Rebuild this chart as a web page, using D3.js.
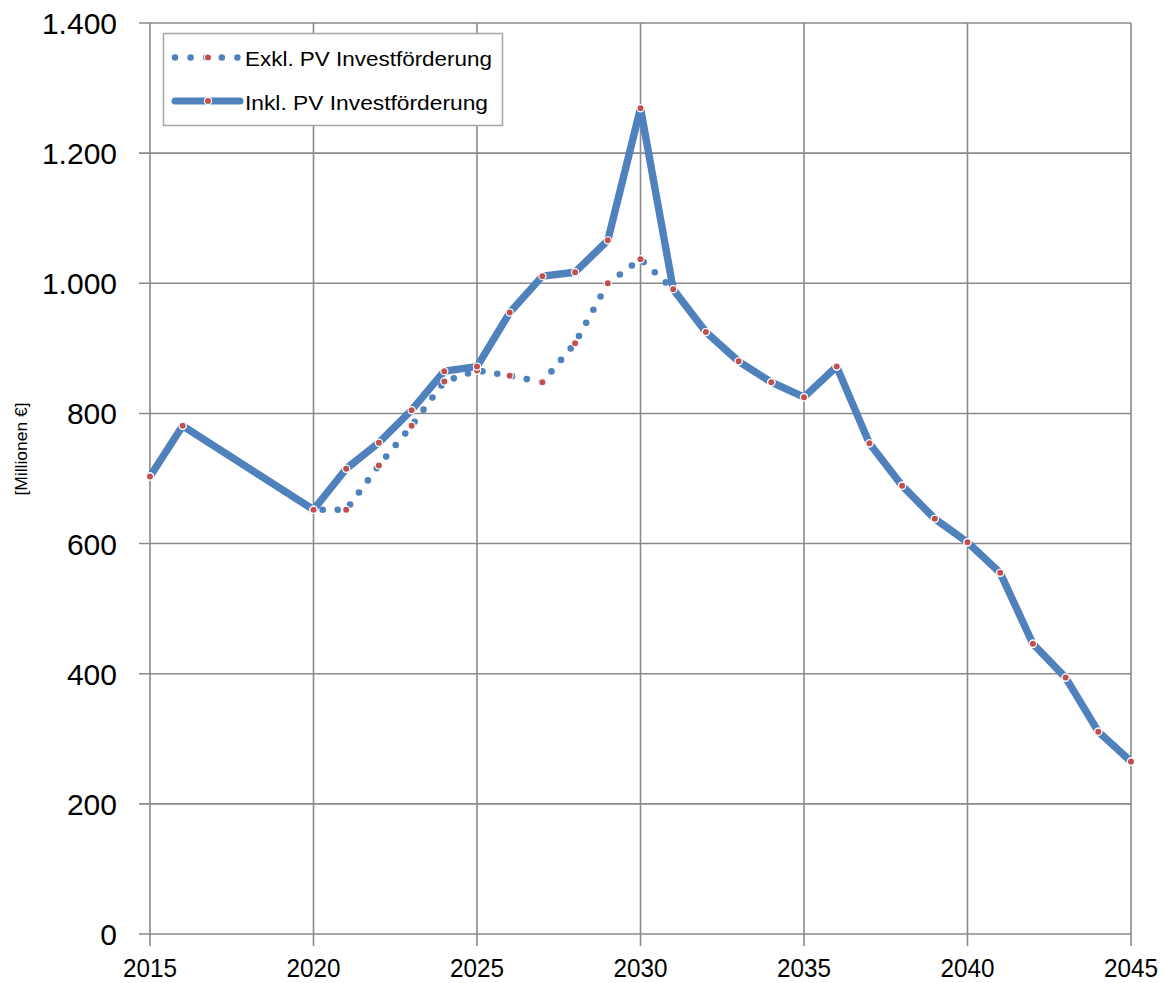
<!DOCTYPE html>
<html><head><meta charset="utf-8">
<script src="https://cdn.jsdelivr.net/npm/d3@7"></script>
<style>body{margin:0;background:#fff}svg{display:block}</style>
</head><body><div id="chart"></div>
<script>
const years = [2015,2016,2020,2021,2022,2023,2024,2025,2026,2027,2028,2029,2030,2031,2032,2033,2034,2035,2036,2037,2038,2039,2040,2041,2042,2043,2044,2045];
const inkl = [703,781,652,715,755,805,865,872,955,1011,1017,1066,1269,991,925,880,848,825,872,754,689,638,602,555,446,394,311,265];
const exkl = [703,781,652,652,720,781,849,866,858,848,908,1000,1037,991,925,880,848,825,872,754,689,638,602,555,446,394,311,265];
const seriesNames = ["Exkl. PV Investförderung","Inkl. PV Investförderung"];
const yTicks = [0,200,400,600,800,1000,1200,1400];
const xTicks = [2015,2020,2025,2030,2035,2040,2045];
const yLabel = "[Millionen €]";

const W=1163,H=983;
const svg=d3.select("#chart").append("svg").attr("width",W).attr("height",H);
const x=d3.scaleLinear().domain([2015,2045]).range([150,1131]);
const y=d3.scaleLinear().domain([0,1400]).range([934,23]);
const fmt=v=>d3.format(",")(v).replace(/,/g,".");
const grid="#8a8a8a", blue="#4F81BD", red="#C0504D";

// gridlines
svg.append("g").selectAll("line").data(yTicks).join("line")
 .attr("x1",139).attr("x2",1131).attr("y1",d=>y(d)).attr("y2",d=>y(d))
 .attr("stroke",grid).attr("stroke-width",1.6);
svg.append("g").selectAll("line").data(xTicks).join("line")
 .attr("x1",d=>x(d)).attr("x2",d=>x(d)).attr("y1",23).attr("y2",946)
 .attr("stroke",grid).attr("stroke-width",1.6);

// tick labels
svg.append("g").selectAll("text").data(yTicks).join("text")
 .attr("x",117).attr("y",d=>y(d)+11).attr("text-anchor","end")
 .attr("font-family","Liberation Sans, Arial, sans-serif").attr("font-size",30)
 .attr("fill","#000").text(fmt);
svg.append("g").selectAll("text").data(xTicks).join("text")
 .attr("x",d=>x(d)).attr("y",977).attr("text-anchor","middle")
 .attr("font-family","Liberation Sans, Arial, sans-serif").attr("font-size",26)
 .attr("textLength",54).attr("lengthAdjust","spacingAndGlyphs")
 .attr("fill","#000").text(d=>d);
svg.append("text").attr("transform","translate(27,449) rotate(-90)")
 .attr("text-anchor","middle").attr("font-family","Liberation Sans, Arial, sans-serif")
 .attr("font-size",17).attr("textLength",93).attr("lengthAdjust","spacingAndGlyphs")
 .attr("fill","#000").text(yLabel);

const line=d3.line().x((d,i)=>x(years[i])).y(d=>y(d));

// exkl dotted
svg.append("path").attr("d",line(exkl)).attr("fill","none").attr("stroke",blue)
 .attr("stroke-width",6.6).attr("stroke-linecap","round").attr("stroke-dasharray","0,15");
// inkl solid
svg.append("path").attr("d",line(inkl)).attr("fill","none").attr("stroke",blue)
 .attr("stroke-width",7.4).attr("stroke-linejoin","round");

function markers(data){
 svg.append("g").selectAll("circle").data(data).join("circle")
  .attr("cx",(d,i)=>x(years[i])).attr("cy",d=>y(d)).attr("r",3.6)
  .attr("fill",red).attr("stroke","#fff").attr("stroke-width",1.2);
}
markers(exkl);
markers(inkl);

// legend
const lg=svg.append("g");
lg.append("rect").attr("x",163.5).attr("y",33.5).attr("width",339).attr("height",92)
 .attr("fill","#fff").attr("stroke","#a6a6a6").attr("stroke-width",1.5);
lg.append("line").attr("x1",175).attr("x2",240).attr("y1",57.5).attr("y2",57.5)
 .attr("stroke",blue).attr("stroke-width",6.5).attr("stroke-linecap","round").attr("stroke-dasharray","0,15.6");
lg.append("line").attr("x1",175).attr("x2",240).attr("y1",101).attr("y2",101)
 .attr("stroke",blue).attr("stroke-width",7).attr("stroke-linecap","round");
[57.5,101].forEach(cy=>lg.append("circle").attr("cx",208).attr("cy",cy).attr("r",3.6)
 .attr("fill",red).attr("stroke","#fff").attr("stroke-width",1.2));
lg.selectAll("text").data(seriesNames).join("text")
 .attr("x",245).attr("y",(d,i)=>66+i*44)
 .attr("font-family","Liberation Sans, Arial, sans-serif").attr("font-size",20)
 .attr("textLength",(d,i)=>i==0?247:243).attr("lengthAdjust","spacingAndGlyphs")
 .attr("fill","#000").text(d=>d);
</script></body></html>
